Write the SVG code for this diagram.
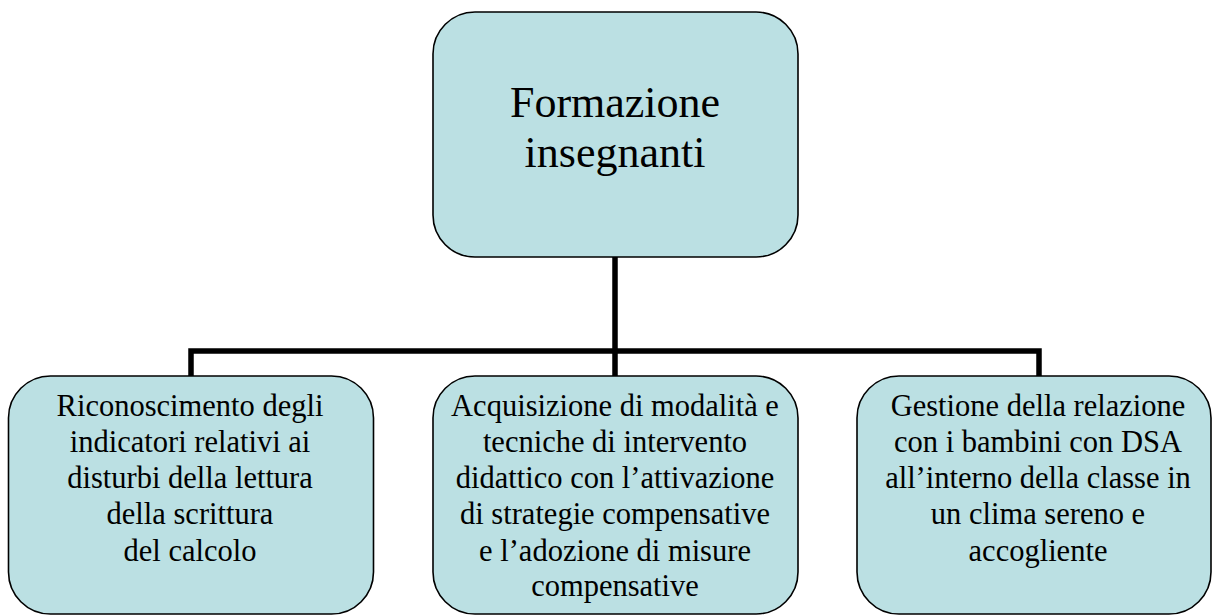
<svg xmlns="http://www.w3.org/2000/svg" width="1213" height="616" viewBox="0 0 1213 616">
<style>
.box{fill:#BBE0E3;stroke:#000;stroke-width:1.6}
.conn{fill:none;stroke:#000;stroke-width:5.5}
text{font-family:'Liberation Serif','Times New Roman',serif;fill:#000;text-anchor:middle}
.t1{font-size:44px}
.t2{font-size:30.5px}
</style>
<rect width="1213" height="616" fill="#fff"/>
<g id="connectors">
<path class="conn" d="M615 257 V351 M191 376 V351 H1039 V376 M615 351 V376"/>
</g>
<g id="node-top">
<rect class="box" x="433" y="12" width="365" height="245" rx="42"/>
<text class="t1" x="615" y="117">Formazione</text>
<text class="t1" x="615" y="167">insegnanti</text>
</g>
<g id="node-left">
<rect class="box" x="8.5" y="376" width="365" height="238" rx="42"/>
<text class="t2" x="190" y="416">Riconoscimento degli</text>
<text class="t2" x="190" y="452">indicatori relativi ai</text>
<text class="t2" x="190" y="488">disturbi della lettura</text>
<text class="t2" x="190" y="524">della scrittura</text>
<text class="t2" x="190" y="561">del calcolo</text>
</g>
<g id="node-middle">
<rect class="box" x="433" y="376" width="365" height="238" rx="42"/>
<text class="t2" x="615" y="416">Acquisizione di modalità e</text>
<text class="t2" x="615" y="452">tecniche di intervento</text>
<text class="t2" x="615" y="488">didattico con l’attivazione</text>
<text class="t2" x="615" y="524">di strategie compensative</text>
<text class="t2" x="615" y="561">e l’adozione di misure</text>
<text class="t2" x="615" y="596">compensative</text>
</g>
<g id="node-right">
<rect class="box" x="857" y="376" width="354" height="238" rx="42"/>
<text class="t2" x="1038" y="416">Gestione della relazione</text>
<text class="t2" x="1038" y="452">con i bambini con DSA</text>
<text class="t2" x="1038" y="488">all’interno della classe in</text>
<text class="t2" x="1038" y="524">un clima sereno e</text>
<text class="t2" x="1038" y="561">accogliente</text>
</g>
</svg>
